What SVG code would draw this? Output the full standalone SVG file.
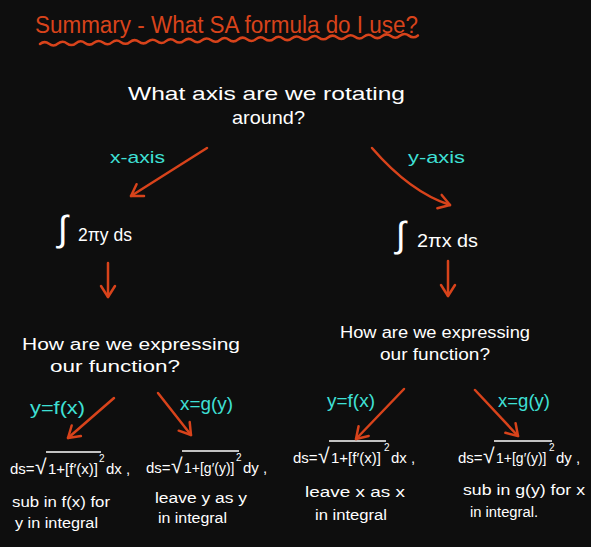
<svg xmlns="http://www.w3.org/2000/svg" width="591" height="547" viewBox="0 0 591 547">
<style>
text{font-family:"Liberation Sans","DejaVu Sans",sans-serif}
.t{fill:#d8431b;font-size:23px}
.w{fill:#ffffff;font-size:19px}
.c{fill:#3fe0d6;font-size:17px}
.f{fill:#ffffff;font-size:15px}
.s{fill:#ffffff;font-size:14px}
.sup{font-size:10px}
.rad{font-size:21px}
.int{fill:#ffffff;font-size:36px}
.ov{stroke:#ffffff;stroke-width:1.3;fill:none}
.a{stroke:#d8431b;stroke-width:2.5;fill:none;stroke-linecap:round;stroke-linejoin:round}
</style>
<defs>
<marker id="ah" markerUnits="userSpaceOnUse" markerWidth="20" markerHeight="20" viewBox="-12 -10 16 20" refX="0" refY="0" orient="auto">
<path d="M-11,-7 L0,0 L-11,7" fill="none" stroke="#d8431b" stroke-width="2.5" stroke-linecap="round" stroke-linejoin="round"/>
</marker>
</defs>
<rect width="591" height="547" fill="#0e0e0e"/>

<g id="title">
<text class="t" x="35" y="33" textLength="383" lengthAdjust="spacingAndGlyphs">Summary - What SA formula do I use?</text>
<path class="a" stroke-width="2" transform="translate(40,44) rotate(-1.3)" d="M0,0 q4.5,-3.5 9,0 t9,0 t9,0 t9,0 t9,0 t9,0 t9,0 t9,0 t9,0 t9,0 t9,0 t9,0 t9,0 t9,0 t9,0 t9,0 t9,0 t9,0 t9,0 t9,0 t9,0 t9,0 t9,0 t9,0 t9,0 t9,0 t9,0 t9,0 t9,0 t9,0 t9,0 t9,0 t9,0 t9,0 t9,0 t9,0 t9,0 t9,0 t9,0 t9,0 t9,0 t9,0"/>
</g>

<g id="q-axis">
<text class="w" x="128" y="100" textLength="277" lengthAdjust="spacingAndGlyphs">What axis are we rotating</text>
<text class="w" x="232" y="124" textLength="73" lengthAdjust="spacingAndGlyphs">around?</text>
</g>

<g id="int-x">
<text class="w" x="58" y="241"><tspan class="int">∫</tspan><tspan x="78" textLength="54" lengthAdjust="spacingAndGlyphs">2πy ds</tspan></text>
</g>

<g id="int-y">
<text class="w" x="396" y="247"><tspan class="int">∫</tspan><tspan x="417" textLength="61" lengthAdjust="spacingAndGlyphs">2πx ds</tspan></text>
</g>

<g id="q-func-left">
<text class="s" x="22" y="350" style="font-size:16px" textLength="218" lengthAdjust="spacingAndGlyphs">How are we expressing</text>
<text class="s" x="50" y="372" style="font-size:16px" textLength="130" lengthAdjust="spacingAndGlyphs">our function?</text>
</g>

<g id="q-func-right">
<text class="s" x="340" y="338" style="font-size:16px" textLength="190" lengthAdjust="spacingAndGlyphs">How are we expressing</text>
<text class="s" x="380" y="360" style="font-size:16px" textLength="110" lengthAdjust="spacingAndGlyphs">our function?</text>
</g>

<g id="ds-fx-left">
<line class="ov" x1="46" y1="452" x2="101" y2="452"/>
<text class="f" x="10" y="474"><tspan>ds=</tspan><tspan class="rad" x="35">√</tspan><tspan x="48">1+[f′(x)]</tspan><tspan class="sup" x="99" dy="-12">2</tspan><tspan x="106" dy="12">dx ,</tspan></text>
<text class="s" x="12" y="507" textLength="98" lengthAdjust="spacingAndGlyphs">sub in f(x) for</text>
<text class="s" x="15" y="528" textLength="83" lengthAdjust="spacingAndGlyphs">y in integral</text>
</g>

<g id="ds-gy-left">
<line class="ov" x1="182" y1="451" x2="239" y2="451"/>
<text class="f" x="146" y="473"><tspan>ds=</tspan><tspan class="rad" x="171">√</tspan><tspan x="184" style="font-size:14px">1+[g′(y)]</tspan><tspan class="sup" x="236" dy="-12">2</tspan><tspan x="243" dy="12">dy ,</tspan></text>
<text class="s" x="155" y="503" textLength="92" lengthAdjust="spacingAndGlyphs">leave y as y</text>
<text class="s" x="158" y="523" textLength="69" lengthAdjust="spacingAndGlyphs">in integral</text>
</g>

<g id="ds-fx-right">
<line class="ov" x1="329" y1="441" x2="386" y2="441"/>
<text class="f" x="293" y="463"><tspan>ds=</tspan><tspan class="rad" x="318">√</tspan><tspan x="331">1+[f′(x)]</tspan><tspan class="sup" x="384" dy="-12">2</tspan><tspan x="391" dy="12">dx ,</tspan></text>
<text class="s" x="305" y="497" textLength="100" lengthAdjust="spacingAndGlyphs">leave x as x</text>
<text class="s" x="315" y="520" textLength="72" lengthAdjust="spacingAndGlyphs">in integral</text>
</g>

<g id="ds-gy-right">
<line class="ov" x1="494" y1="441" x2="552" y2="441"/>
<text class="f" x="458" y="463"><tspan>ds=</tspan><tspan class="rad" x="483">√</tspan><tspan x="496" style="font-size:14px">1+[g′(y)]</tspan><tspan class="sup" x="549" dy="-12">2</tspan><tspan x="556" dy="12">dy ,</tspan></text>
<text class="s" x="463" y="495" textLength="122" lengthAdjust="spacingAndGlyphs">sub in g(y) for x</text>
<text class="s" x="470" y="517" textLength="68" lengthAdjust="spacingAndGlyphs">in integral.</text>
</g>

<g id="connectors">
<path class="a" d="M207,148 L131,196" marker-end="url(#ah)"/>
<path class="a" d="M372,148 Q410,192 450,205" marker-end="url(#ah)"/>
<path class="a" d="M108,263 L108,297" marker-end="url(#ah)"/>
<path class="a" d="M448,261 L448,296" marker-end="url(#ah)"/>
<path class="a" d="M114,398 L68,438" marker-end="url(#ah)"/>
<path class="a" d="M158,393 L191,435" marker-end="url(#ah)"/>
<path class="a" d="M404,389 L356,439" marker-end="url(#ah)"/>
<path class="a" d="M475,390 L518,436" marker-end="url(#ah)"/>
<text class="c" x="110" y="163" textLength="55" lengthAdjust="spacingAndGlyphs">x-axis</text>
<text class="c" x="408" y="163" textLength="57" lengthAdjust="spacingAndGlyphs">y-axis</text>
<text class="c" x="30" y="414" style="font-size:19px" textLength="55" lengthAdjust="spacingAndGlyphs">y=f(x)</text>
<text class="c" x="180" y="410" style="font-size:19px" textLength="53" lengthAdjust="spacingAndGlyphs">x=g(y)</text>
<text class="c" x="327" y="407" style="font-size:19px" textLength="48" lengthAdjust="spacingAndGlyphs">y=f(x)</text>
<text class="c" x="498" y="407" style="font-size:19px" textLength="52" lengthAdjust="spacingAndGlyphs">x=g(y)</text>
</g>
</svg>
